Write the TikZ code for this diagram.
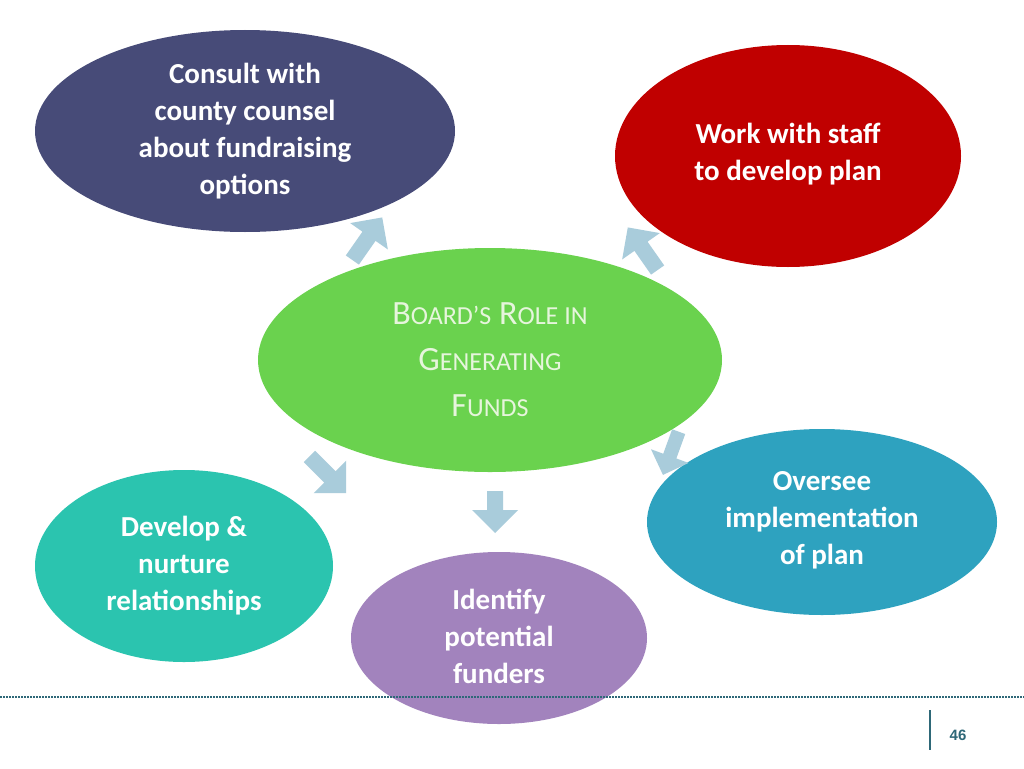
\documentclass[tikz,border=0pt]{standalone}
\usepackage{fontspec}
\setmainfont{Carlito}
\setsansfont{Liberation Sans}
\usetikzlibrary{shapes.arrows}
\definecolor{cnavy}{HTML}{474B78}
\definecolor{cred}{HTML}{C00000}
\definecolor{cgreen}{HTML}{6AD24E}
\definecolor{cblue}{HTML}{2EA2BF}
\definecolor{cteal}{HTML}{2BC4AF}
\definecolor{cpurp}{HTML}{A283BD}
\definecolor{carrow}{HTML}{A9CCDB}
\definecolor{cline}{HTML}{2E6878}
\definecolor{ctxt}{HTML}{E6F5DC}
\newcommand{\bg}[1]{{\fontsize{34}{40}\selectfont #1}}
\newcommand{\sm}[1]{{\fontsize{26}{40}\selectfont #1}}
\begin{document}
\begin{tikzpicture}[x=1pt,y=-1pt,
  ell/.style={fill=#1,draw=none},
  etext/.style={text=white,font=\bfseries\fontsize{29}{37}\selectfont,align=center},
  barrow/.style={single arrow,fill=carrow,draw=none,minimum width=46pt,single arrow head extend=6pt,minimum height=52pt,inner sep=3pt}]
\useasboundingbox (0,0) rectangle (1024,768);
\fill[white] (0,0) rectangle (1024,768);
\fill[cnavy] (245,131) ellipse (210 and 101);
\node[etext] (a) at (245,131) {Consult with\\county counsel\\about fundraising\\options};
\fill[cred] (788,156) ellipse (173 and 111);
\node[etext] (b) at (788,154) {Work with staff\\to develop plan};
\fill[cblue] (822,522) ellipse (175 and 93);
\node[etext] (c) at (822,520) {Oversee\\implementation\\of plan};
\fill[cteal] (184,566) ellipse (149 and 96);
\node[etext] (d) at (184,566) {Develop \&\\nurture\\relationships};
\fill[cpurp] (499,638) ellipse (148 and 86);
\node[etext] (e) at (499,636) {Identify\\potential\\funders};
\fill[cgreen] (490,360) ellipse (232 and 112);
\node[text=ctxt,align=center,font=\fontsize{34}{46}\selectfont] (m) at (490,360)
 {\bg{B}\sm{OARD’S} \bg{R}\sm{OLE IN}\\\bg{G}\sm{ENERATING}\\\bg{F}\sm{UNDS}};
\node[barrow,rotate=55] (ar1) at (365,242) {};
\node[barrow,rotate=125] (ar2) at (645,252) {};
\node[barrow,rotate=-110,minimum width=40pt,minimum height=46pt] (ar3) at (672,450) {};
\node[barrow,rotate=-45] (ar4) at (325,472) {};
\node[barrow,rotate=-90,minimum height=42pt] (ar5) at (495,508) {};
\draw[cline,line width=1.5pt,dash pattern=on 1.5pt off 1.5pt] (0,697) -- (1024,697);
\draw[cline,line width=2pt] (930,710) -- (930,750);
\node[text=cline,font=\sffamily\bfseries\fontsize{15}{18}\selectfont] (pn) at (958,735) {46};
\end{tikzpicture}
\end{document}
